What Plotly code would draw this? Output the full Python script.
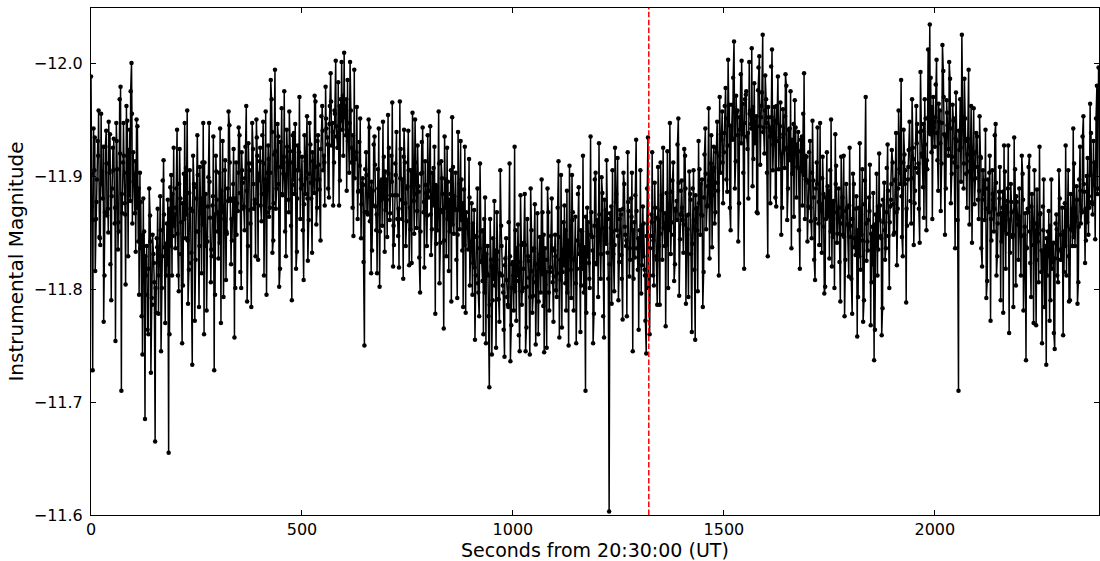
import plotly.graph_objects as go

# Frames are grouped in 100 s blocks; within a block series A sits at start + 4i,
# series B at start + 2 + 4i and series C at start + 1 + 4i (seconds).
STEP_S = 4
B_OFFSET_S = 2
C_OFFSET_S = 1
# Instrumental magnitudes, stored as thousandths of a magnitude brighter than -11
# (value 873 -> magnitude -11.873), read off the reference block by block.
seg_a = {
    0:    [988, 728, 905, 862, 931, 846, 955, 880, 812, 940, 871, 903, 790, 925, 858, 947, 835, 968, 710, 912, 876, 962, 829, 941, 1000],
    100:  [921, 867, 950, 842, 903, 776, 880, 685, 838, 760, 865, 792, 831, 665, 845, 778, 882, 801, 914, 770, 858, 655, 890, 812, 925],
    200:  [836, 941, 798, 880, 752, 902, 845, 958, 817, 871, 733, 893, 826, 936, 784, 867, 912, 760, 884, 842, 947, 806, 874, 728, 918],
    300:  [851, 903, 770, 931, 862, 808, 889, 945, 822, 878, 757, 912, 869, 936, 801, 894, 852, 962, 838, 905, 784, 924, 879, 950, 826],
    400:  [913, 860, 948, 885, 795, 927, 872, 968, 843, 994, 889, 935, 818, 960, 902, 851, 941, 879, 922, 790, 897, 946, 833, 905, 862],
    500:  [917, 808, 884, 953, 861, 928, 832, 897, 966, 872, 910, 843, 962, 918, 979, 934, 881, 991, 947, 912, 1002, 925, 874, 968, 941],
    600:  [1009, 936, 985, 903, 958, 872, 994, 915, 862, 930, 845, 898, 750, 921, 866, 943, 814, 887, 935, 852, 906, 802, 879, 948, 833],
    700:  [897, 954, 861, 918, 820, 883, 939, 847, 966, 879, 809, 912, 860, 940, 872, 823, 905, 950, 854, 891, 797, 930, 868, 913, 838],
    800:  [881, 944, 853, 907, 778, 890, 957, 841, 898, 765, 872, 925, 816, 884, 952, 849, 903, 792, 870, 931, 834, 888, 779, 861, 915],
    900:  [842, 795, 870, 812, 889, 776, 851, 807, 862, 752, 838, 713, 826, 790, 878, 748, 833, 771, 856, 803, 740, 845, 786, 911, 768],
    1000: [824, 926, 772, 857, 745, 839, 801, 884, 766, 829, 742, 852, 794, 875, 812, 760, 846, 897, 785, 836, 748, 868, 815, 880, 771],
    1100: [848, 793, 913, 826, 766, 859, 805, 887, 750, 842, 901, 781, 864, 818, 890, 762, 851, 797, 710, 872, 823, 935, 846, 778, 903],
    1200: [861, 929, 809, 885, 757, 870, 832, 603, 854, 905, 798, 877, 916, 824, 866, 773, 893, 838, 921, 811, 880, 745, 859, 932, 817],
    1300: [852, 796, 873, 817, 743, 934, 760, 866, 812, 894, 829, 908, 786, 870, 925, 838, 885, 801, 947, 859, 912, 822, 878, 951, 844],
    1400: [896, 832, 918, 865, 793, 884, 762, 905, 755, 872, 931, 848, 897, 815, 942, 873, 960, 889, 837, 926, 868, 948, 812, 903, 957],
    1500: [921, 978, 886, 945, 852, 963, 1019, 913, 958, 876, 990, 937, 818, 972, 924, 1001, 946, 891, 982, 931, 867, 1006, 952, 1025, 920],
    1600: [968, 829, 943, 997, 905, 961, 873, 988, 934, 848, 959, 907, 980, 889, 942, 836, 925, 967, 881, 939, 818, 904, 955, 862, 917],
    1700: [873, 931, 845, 896, 808, 912, 858, 947, 832, 884, 802, 921, 866, 905, 820, 878, 937, 841, 889, 789, 864, 918, 826, 872, 811],
    1800: [856, 778, 893, 830, 758, 872, 817, 906, 790, 970, 842, 881, 768, 855, 737, 866, 812, 920, 847, 783, 894, 836, 928, 801, 879],
    1900: [912, 850, 938, 871, 906, 985, 829, 919, 788, 897, 948, 858, 925, 876, 962, 903, 841, 940, 890, 968, 852, 1012, 1034, 921, 970],
    2000: [926, 1003, 887, 958, 911, 993, 848, 967, 918, 986, 902, 949, 836, 931, 710, 968, 1025, 889, 951, 872, 994, 913, 841, 960, 898],
    2100: [935, 862, 917, 820, 884, 941, 807, 868, 772, 905, 851, 946, 829, 886, 790, 872, 927, 818, 878, 761, 893, 846, 934, 803, 864],
    2200: [889, 812, 902, 848, 737, 871, 918, 793, 859, 905, 768, 842, 926, 815, 873, 784, 733, 851, 772, 897, 824, 747, 866, 806, 880],
    2300: [833, 759, 876, 812, 905, 790, 852, 942, 838, 891, 806, 926, 869, 953, 823, 900, 848, 964, 877, 931, 844, 980, 996],
}
seg_b = {
    0:    [873, 942, 816, 897, 958, 839, 904, 771, 926, 865, 948, 822, 889, 933, 754, 906, 851, 979, 867, 918, 804, 949, 883, 975, 858],
    100:  [902, 833, 944, 795, 877, 742, 851, 812, 764, 889, 726, 848, 806, 779, 871, 823, 745, 896, 837, 812, 879, 760, 901, 847, 866],
    200:  [889, 812, 924, 859, 803, 947, 866, 787, 905, 832, 918, 772, 880, 851, 908, 814, 947, 838, 781, 899, 863, 829, 935, 795, 879],
    300:  [827, 942, 868, 793, 914, 849, 957, 880, 843, 924, 801, 876, 943, 815, 905, 873, 926, 789, 911, 858, 947, 871, 829, 918, 896],
    400:  [874, 936, 812, 957, 903, 864, 985, 832, 919, 871, 946, 802, 908, 883, 975, 829, 912, 957, 856, 936, 884, 818, 927, 970, 889],
    500:  [852, 936, 898, 825, 947, 880, 913, 971, 857, 936, 888, 953, 905, 874, 942, 889, 962, 927, 874, 955, 935, 983, 896, 1001, 918],
    600:  [962, 887, 940, 1001, 925, 847, 916, 961, 887, 951, 893, 824, 906, 868, 950, 889, 834, 928, 873, 814, 942, 895, 856, 917, 870],
    700:  [846, 925, 883, 965, 839, 901, 862, 819, 924, 897, 941, 838, 891, 821, 905, 956, 849, 884, 927, 828, 902, 943, 819, 885, 936],
    800:  [902, 830, 876, 926, 840, 869, 805, 913, 868, 935, 829, 895, 851, 789, 908, 871, 826, 939, 853, 897, 784, 926, 861, 835, 803],
    900:  [876, 823, 755, 846, 797, 911, 825, 760, 881, 814, 776, 862, 742, 809, 834, 868, 791, 905, 812, 764, 827, 793, 859, 736, 822],
    1000: [781, 852, 812, 759, 883, 798, 841, 745, 862, 810, 889, 779, 836, 751, 867, 823, 797, 868, 744, 815, 889, 781, 847, 806, 834],
    1100: [799, 872, 757, 901, 815, 874, 781, 843, 909, 792, 868, 827, 752, 884, 839, 803, 918, 826, 779, 859, 801, 868, 752, 897, 822],
    1200: [793, 852, 899, 776, 843, 914, 809, 867, 787, 831, 925, 852, 790, 870, 809, 903, 848, 776, 869, 826, 903, 809, 883, 836, 764],
    1300: [905, 821, 858, 772, 889, 812, 847, 921, 803, 863, 786, 838, 912, 826, 858, 767, 922, 852, 831, 896, 807, 869, 928, 794, 887],
    1400: [861, 924, 787, 853, 904, 831, 889, 817, 871, 798, 906, 866, 784, 919, 853, 891, 827, 936, 904, 858, 921, 887, 970, 932, 876],
    1500: [962, 897, 1003, 872, 934, 987, 889, 956, 842, 941, 1002, 903, 968, 935, 880, 958, 1013, 915, 949, 868, 996, 910, 974, 943, 989],
    1600: [903, 952, 876, 1012, 938, 881, 947, 906, 965, 872, 923, 990, 861, 918, 975, 902, 864, 943, 908, 852, 932, 874, 991, 897, 842],
    1700: [921, 860, 949, 826, 889, 943, 839, 875, 917, 796, 862, 891, 827, 950, 846, 801, 909, 862, 824, 917, 848, 776, 893, 857, 925],
    1800: [809, 902, 845, 882, 793, 929, 848, 771, 896, 825, 861, 910, 806, 885, 764, 902, 835, 874, 759, 859, 826, 907, 847, 873, 923],
    1900: [848, 897, 821, 958, 893, 846, 941, 905, 856, 923, 878, 968, 839, 907, 946, 871, 992, 917, 863, 951, 906, 939, 987, 862, 948],
    2000: [981, 914, 948, 869, 1016, 937, 889, 945, 1001, 876, 963, 912, 974, 861, 923, 895, 947, 986, 902, 933, 857, 962, 919, 875, 938],
    2100: [879, 953, 836, 905, 861, 792, 897, 918, 843, 879, 936, 812, 866, 908, 842, 779, 904, 849, 927, 832, 868, 784, 906, 877, 826],
    2200: [855, 918, 781, 867, 836, 908, 823, 884, 770, 851, 888, 806, 867, 752, 897, 838, 812, 869, 790, 839, 761, 858, 812, 905, 826],
    2300: [872, 815, 927, 856, 789, 884, 838, 911, 864, 787, 897, 858, 935, 886, 843, 916, 872, 938, 866, 912, 951, 889],
}
seg_c = {
    0:    [902, 861, 934, 877, 918, 845, 893, 926, 868, 911, 850, 937, 882, 905, 872, 931, 859, 920, 884, 947, 866, 903, 923, 878, 955],
    100:  [895, 913, 872, 889, 836, 848, 807, 829, 795, 818, 842, 786, 823, 801, 837, 812, 852, 829, 866, 840, 822, 871, 838, 884, 856],
    200:  [872, 849, 893, 831, 876, 862, 907, 843, 885, 823, 869, 890, 851, 901, 838, 880, 857, 912, 846, 873, 895, 835, 882, 866, 904],
    300:  [868, 841, 887, 873, 905, 851, 878, 912, 862, 893, 880, 848, 903, 885, 921, 871, 898, 887, 929, 870, 911, 893, 876, 934, 902],
    400:  [925, 884, 911, 897, 868, 915, 903, 939, 876, 922, 908, 893, 930, 884, 917, 901, 926, 868, 912, 892, 938, 905, 880, 921, 897],
    500:  [892, 875, 913, 880, 902, 894, 921, 885, 908, 931, 897, 924, 940, 912, 951, 928, 946, 966, 939, 958, 944, 925, 962, 949, 971],
    600:  [952, 968, 931, 947, 912, 936, 898, 921, 886, 909, 875, 892, 868, 901, 882, 860, 895, 874, 910, 866, 889, 851, 897, 880, 904],
    700:  [879, 902, 867, 895, 856, 911, 883, 871, 898, 862, 917, 876, 889, 905, 853, 894, 878, 912, 869, 886, 851, 903, 877, 892, 865],
    800:  [887, 866, 903, 874, 892, 852, 911, 870, 884, 843, 897, 862, 879, 905, 857, 882, 870, 848, 893, 861, 876, 839, 868, 854, 881],
    900:  [836, 858, 819, 847, 805, 836, 824, 852, 797, 831, 812, 786, 820, 845, 803, 826, 791, 814, 838, 797, 821, 808, 784, 829, 801],
    1000: [812, 798, 836, 807, 824, 786, 818, 839, 802, 825, 793, 816, 834, 806, 822, 789, 831, 813, 848, 804, 826, 797, 819, 836, 811],
    1100: [829, 814, 846, 808, 835, 821, 852, 797, 839, 817, 861, 826, 805, 843, 831, 852, 818, 837, 864, 829, 809, 848, 834, 856, 823],
    1200: [847, 866, 831, 854, 879, 840, 862, 822, 873, 851, 839, 884, 847, 862, 830, 871, 855, 843, 877, 836, 864, 852, 828, 869, 845],
    1300: [838, 856, 829, 812, 847, 801, 836, 859, 843, 872, 826, 861, 849, 883, 854, 867, 839, 875, 858, 886, 848, 871, 861, 894, 866],
    1400: [872, 857, 889, 848, 866, 879, 840, 861, 883, 852, 876, 893, 865, 881, 902, 874, 896, 911, 883, 907, 925, 894, 918, 937, 912],
    1500: [938, 951, 927, 963, 944, 932, 958, 971, 936, 952, 929, 964, 947, 975, 938, 955, 942, 961, 929, 953, 976, 944, 962, 939, 958],
    1600: [947, 961, 935, 952, 928, 949, 962, 931, 944, 920, 937, 953, 925, 941, 914, 932, 946, 919, 928, 907, 922, 935, 901, 918, 896],
    1700: [894, 872, 903, 881, 862, 893, 877, 869, 898, 855, 881, 864, 887, 851, 876, 868, 893, 849, 872, 858, 881, 846, 869, 857, 874],
    1800: [846, 862, 837, 871, 852, 829, 866, 843, 875, 858, 834, 869, 849, 822, 857, 838, 873, 861, 845, 879, 852, 868, 887, 859, 893],
    1900: [875, 896, 868, 889, 903, 882, 912, 893, 871, 908, 924, 898, 915, 887, 929, 911, 939, 920, 946, 928, 914, 952, 937, 961, 943],
    2000: [952, 938, 964, 929, 947, 970, 935, 956, 924, 942, 917, 951, 933, 908, 940, 925, 952, 911, 931, 919, 904, 926, 913, 897, 921],
    2100: [908, 887, 916, 879, 896, 871, 889, 903, 862, 884, 871, 894, 858, 880, 867, 886, 852, 874, 889, 861, 877, 848, 870, 882, 857],
    2200: [864, 847, 879, 855, 837, 868, 851, 873, 839, 858, 826, 849, 866, 834, 852, 821, 845, 829, 856, 818, 841, 827, 853, 835, 848],
    2300: [826, 851, 838, 864, 829, 853, 871, 846, 862, 879, 855, 887, 868, 893, 871, 859, 882, 901, 875, 892, 910, 884],
}

samples = []
for offset, table in ((0, seg_a), (B_OFFSET_S, seg_b), (C_OFFSET_S, seg_c)):
    for start, vals in table.items():
        samples += [(start + offset + STEP_S * i, v) for i, v in enumerate(vals)]
samples.sort()
seconds = [t for t, _ in samples]
magnitude = [-11.0 - v / 1000.0 for _, v in samples]

EVENT_TIME = 1322
x_ticks = [0, 500, 1000, 1500, 2000]
y_ticks = [-12.0, -11.9, -11.8, -11.7, -11.6]
X_TITLE = "Seconds from 20:30:00 (UT)"
Y_TITLE = "Instrumental Magnitude"

FONT = "DejaVu Sans"

fig = go.Figure()
fig.add_trace(go.Scatter(
    x=seconds, y=magnitude, mode="lines+markers",
    line=dict(color="black", width=1.5),
    marker=dict(color="black", size=4.5),
    showlegend=False,
))
fig.add_shape(type="line", xref="x", yref="paper", x0=EVENT_TIME, x1=EVENT_TIME, y0=0, y1=1,
              line=dict(color="red", width=1.5, dash="5.5px,2.4px"))

axis_common = dict(
    showgrid=False, zeroline=False, showline=True, linecolor="black", linewidth=1,
    mirror="ticks", ticks="inside", ticklen=5, tickwidth=1, tickcolor="black",
    tickfont=dict(family=FONT, size=16, color="black"),
)
fig.update_xaxes(
    range=[0, 2389], tickvals=x_ticks, ticktext=[str(v) for v in x_ticks],
    **axis_common,
)
fig.update_yaxes(
    range=[-11.6, -12.0487], tickvals=y_ticks, tickformat=".1f", ticklabelstandoff=4,
    title=dict(text=Y_TITLE, font=dict(family=FONT, size=20, color="black"), standoff=4),
    **axis_common,
)
# x-axis title placed as a centred text just below the tick labels
fig.add_annotation(
    text=X_TITLE, xref="paper", yref="paper", x=0.5, y=-0.0445,
    xanchor="center", yanchor="top", showarrow=False, borderpad=0,
    font=dict(family=FONT, size=19, color="black"),
)
fig.update_layout(
    width=1100, height=561,
    margin=dict(l=91, r=1, t=8, b=46),
    paper_bgcolor="white", plot_bgcolor="white",
    font=dict(family=FONT, color="black"),
)
fig.write_html("out.html")
